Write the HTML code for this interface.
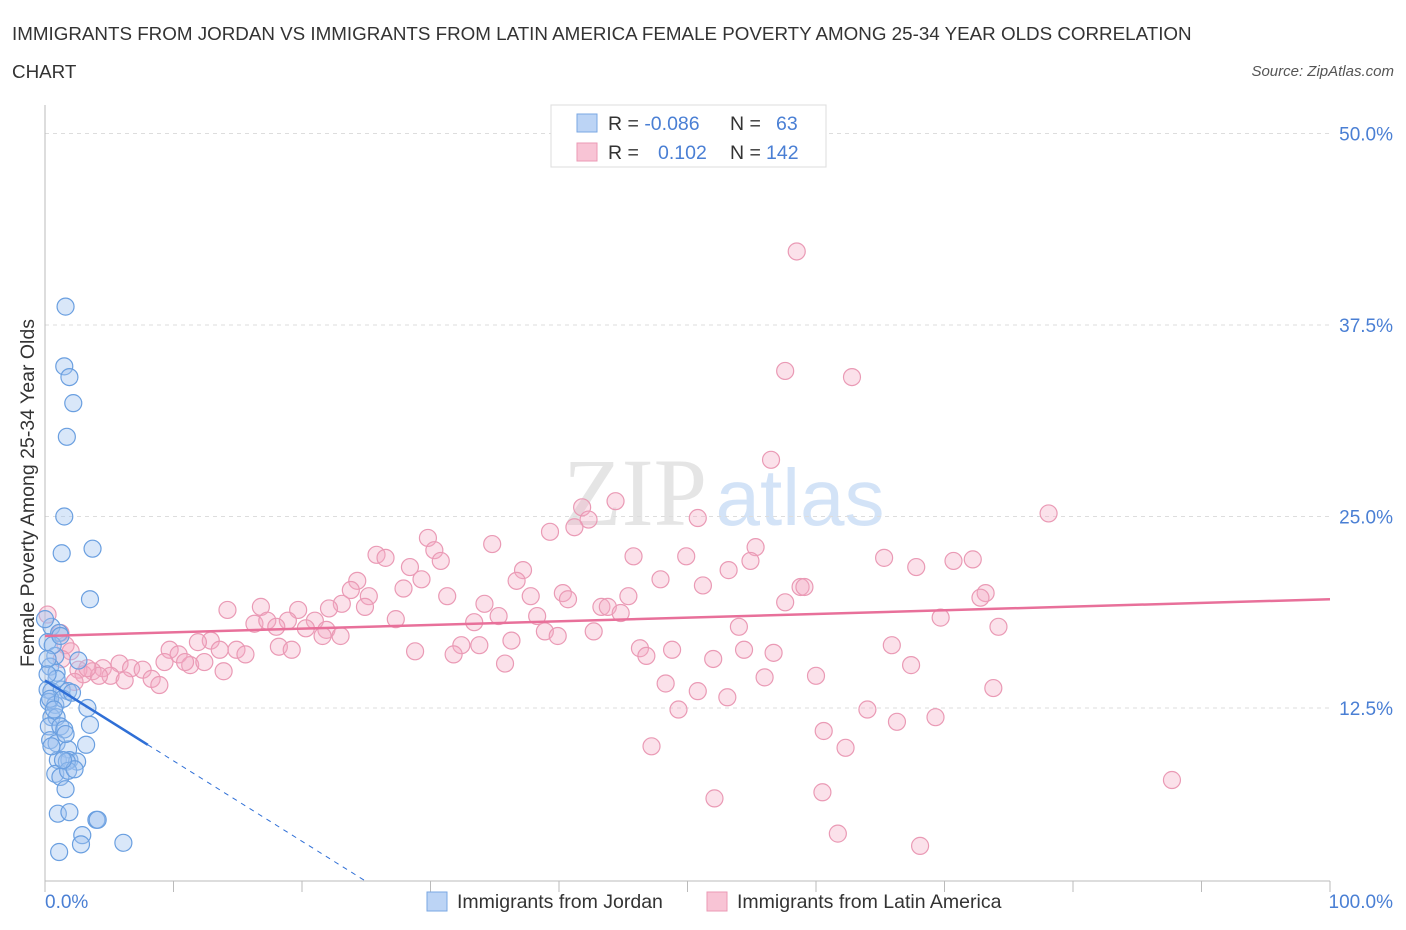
<!DOCTYPE html>
<html><head><meta charset="utf-8">
<style>
body{margin:0;background:#fff;font-family:"Liberation Sans",sans-serif;}
svg{display:block}
</style></head>
<body>
<svg id="chart" width="1406" height="930">
<text x="12" y="40" font-size="18.8" fill="#333">IMMIGRANTS FROM JORDAN VS IMMIGRANTS FROM LATIN AMERICA FEMALE POVERTY AMONG 25-34 YEAR OLDS CORRELATION</text>
<text x="12" y="78" font-size="18.8" fill="#333">CHART</text>
<text x="1394" y="76" font-size="15" fill="#555" font-style="italic" text-anchor="end">Source: ZipAtlas.com</text>
<text x="635" y="525" font-size="96" fill="#ccc" opacity="0.5" font-family="Liberation Serif" text-anchor="middle">ZIP</text>
<text x="800" y="525" font-size="80" fill="#a9c8f0" opacity="0.5" text-anchor="middle">atlas</text>
<g id="grid"></g>
<g id="axes"></g>
<g id="pts"></g>
<g id="trends"></g>
<text transform="translate(34,493) rotate(-90)" font-size="19.5" fill="#333" text-anchor="middle">Female Poverty Among 25-34 Year Olds</text>
<text x="45" y="908" font-size="19" fill="#4a7fd4">0.0%</text>
<text x="1393" y="908" font-size="19" fill="#4a7fd4" text-anchor="end">100.0%</text>
<g>
<rect x="551" y="105" width="275" height="62" fill="#fff" stroke="#ddd"/>
<rect x="577" y="114" width="20" height="18" fill="#bcd4f5" stroke="#7aa7e3"/>
<rect x="577" y="143" width="20" height="18" fill="#f8c4d5" stroke="#eb9ab5"/>
<text x="608" y="130" font-size="19.5" fill="#333">R = <tspan fill="#4a7fd4">-0.086</tspan><tspan x="730">N = </tspan><tspan x="776" fill="#4a7fd4">63</tspan></text>
<text x="608" y="159" font-size="19.5" fill="#333">R = <tspan x="658" fill="#4a7fd4">0.102</tspan><tspan x="730">N = </tspan><tspan x="766" fill="#4a7fd4">142</tspan></text>
</g>
<g>
<rect x="427" y="892" width="20" height="19" fill="#bcd4f5" stroke="#7aa7e3"/>
<text x="457" y="908" font-size="19.5" fill="#333">Immigrants from Jordan</text>
<rect x="707" y="892" width="20" height="19" fill="#f8c4d5" stroke="#eb9ab5"/>
<text x="737" y="908" font-size="19.5" fill="#333">Immigrants from Latin America</text>
</g>
</svg>
<script>
const yTicks=[12.5,25,37.5,50];
const yTickLabels=["12.5%","25.0%","37.5%","50.0%"];
const jordanX=[1.6,1.5,1.9,2.2,1.7,1.5,1.3,3.7,3.5,0.5,1.1,0.2,0.8,2.6,0.4,0.9,0.2,0.5,1.3,1.8,0.3,0.8,0.5,0.9,3.3,0.3,1.2,1.5,3.5,0.4,0.9,3.2,1.8,1.0,1.9,2.5,1.7,0.8,1.2,1.8,1.6,1.0,1.9,4.0,4.1,2.9,2.8,6.1,1.1,0.6,0.2,1.2,0.4,1.4,2.1,0.7,0.5,1.6,0.9,0.2,2.3,1.4,0];
const jordanY=[38.7,34.8,34.1,32.4,30.2,25.0,22.6,22.9,19.6,17.8,17.4,16.8,15.9,15.6,15.2,14.8,13.7,13.6,13.7,13.6,12.9,12.7,11.9,11.9,12.5,11.3,11.3,11.1,11.4,10.4,10.2,10.1,9.8,9.1,9.1,9.0,9.0,8.2,8.0,8.4,7.2,5.6,5.7,5.2,5.2,4.2,3.6,3.7,3.1,16.6,15.7,17.2,13.1,13.1,13.5,12.4,10.0,10.8,14.4,14.7,8.5,9.1,18.3];
const latamX=[58.5,57.6,62.8,56.5,78.1,44.4,41.8,42.3,41.2,50.8,39.3,29.8,34.8,30.3,25.8,26.5,30.8,45.8,49.9,55.3,54.9,65.3,70.7,72.2,67.8,53.2,28.4,37.2,24.3,36.7,47.9,51.2,29.3,23.8,27.9,58.8,59.1,25.2,31.3,37.8,40.3,40.7,45.4,73.2,72.8,23.1,24.9,34.2,43.3,43.8,57.6,14.2,16.8,19.7,22.1,27.3,35.3,38.3,44.8,69.7,16.3,17.3,18.9,21.0,18.0,20.3,21.9,33.4,21.6,23.0,38.9,39.9,42.7,54.0,74.2,12.9,13.6,11.9,18.2,19.2,14.9,15.6,32.4,33.8,36.3,46.3,48.8,54.4,56.7,65.9,28.8,31.8,9.7,10.4,11.3,12.4,9.3,10.9,13.9,46.8,35.8,52.0,67.4,5.8,6.7,7.6,4.5,3.7,5.1,2.6,3.0,6.2,8.3,8.9,4.2,56.0,60.0,48.3,50.8,53.1,73.8,49.3,64.0,66.3,69.3,60.6,47.2,62.3,52.1,60.5,87.7,61.7,68.1,0.2,1.2,1.6,2.0,1.3,3.3,2.3];
const latamY=[42.3,34.5,34.1,28.7,25.2,26.0,25.6,24.8,24.3,24.9,24.0,23.6,23.2,22.8,22.5,22.3,22.1,22.4,22.4,23.0,22.1,22.3,22.1,22.2,21.7,21.5,21.7,21.5,20.8,20.8,20.9,20.5,20.9,20.2,20.3,20.4,20.4,19.8,19.8,19.8,20.0,19.6,19.8,20.0,19.7,19.3,19.1,19.3,19.1,19.1,19.4,18.9,19.1,18.9,19.0,18.3,18.5,18.5,18.7,18.4,18.0,18.2,18.2,18.2,17.8,17.7,17.6,18.1,17.2,17.2,17.5,17.2,17.5,17.8,17.8,16.9,16.3,16.8,16.5,16.3,16.3,16.0,16.6,16.6,16.9,16.4,16.3,16.3,16.1,16.6,16.2,16.0,16.3,16.0,15.3,15.5,15.5,15.5,14.9,15.9,15.4,15.7,15.3,15.4,15.1,15.0,15.1,14.9,14.6,15.0,14.7,14.3,14.4,14.0,14.6,14.5,14.6,14.1,13.6,13.2,13.8,12.4,12.4,11.6,11.9,11.0,10.0,9.9,6.6,7.0,7.8,4.3,3.5,18.6,17.4,16.6,16.2,15.7,15.1,14.2];
const jordanTrend=[0,14.3,8,10.1];
const latamTrend=[0,17.2,100,19.6];

const NS="http://www.w3.org/2000/svg";
const X=v=>45+v*12.85;
const Y=v=>899.5-v*15.32;
function mk(tag,parent,attrs){const e=document.createElementNS(NS,tag);for(const k in attrs)e.setAttribute(k,attrs[k]);document.getElementById(parent).appendChild(e);return e;}
yTicks.forEach((t,i)=>{
  const l=mk('line','grid',{x1:45,x2:1330,y1:Y(t),y2:Y(t),stroke:'#ddd','stroke-dasharray':'4,4'});
  
  
  const tx=mk('text','grid',{x:1393,y:Y(t)+7,'font-size':19,fill:'#4a7fd4','text-anchor':'end'});
  tx.textContent=yTickLabels[i];
  
  
});
const ax=mk('line','axes',{x1:45,x2:1330,y1:881,y2:881,stroke:'#bbb'});


const ay=mk('line','axes',{x1:45,x2:45,y1:105,y2:881,stroke:'#bbb'});


for(let i=0;i<=10;i++){
  const t=mk('line','axes',{x1:X(i*10),x2:X(i*10),y1:881,y2:892,stroke:'#bbb'});
  
  
}
latamX.forEach((x,i)=>{
  const c=mk('circle','pts',{cx:X(x),cy:Y(latamY[i]),r:8.5,fill:'rgba(244,170,196,0.35)',stroke:'#ea9ab5','stroke-width':1.2});
  
  
});
jordanX.forEach((x,i)=>{
  const c=mk('circle','pts',{cx:X(x),cy:Y(jordanY[i]),r:8.5,fill:'rgba(160,195,240,0.4)',stroke:'#6a9fe0','stroke-width':1.2});
  
  
});
const slope=(jordanTrend[3]-jordanTrend[1])/(jordanTrend[2]-jordanTrend[0]);
const yAxisVal=(899.5-881)/15.32;
const xEnd=jordanTrend[0]+(yAxisVal-jordanTrend[1])/slope;
const t1=mk('line','trends',{x1:X(jordanTrend[0]),y1:Y(jordanTrend[1]),x2:X(jordanTrend[2]),y2:Y(jordanTrend[3]),stroke:'#2f6fd6','stroke-width':2.5});


const t2=mk('line','trends',{x1:X(jordanTrend[2]),y1:Y(jordanTrend[3]),x2:X(xEnd),y2:881,stroke:'#2f6fd6','stroke-width':1,'stroke-dasharray':'5,5'});


const t3=mk('line','trends',{x1:X(latamTrend[0]),y1:Y(latamTrend[1]),x2:X(latamTrend[2]),y2:Y(latamTrend[3]),stroke:'#e8709a','stroke-width':2.5});


</script>
</body></html>
